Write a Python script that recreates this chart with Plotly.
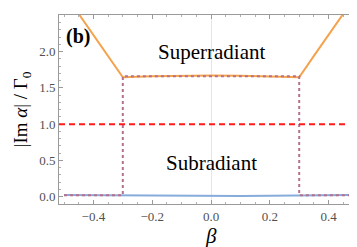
import plotly.graph_objects as go

# ---- data ----
beta_upper = [-0.5, -0.446, -0.4, -0.35, -0.3, -0.2, -0.1, 0.0, 0.1, 0.2, 0.3, 0.35, 0.4, 0.446, 0.5]
gamma_upper = [2.81, 2.50, 2.23, 1.94, 1.645, 1.660, 1.667, 1.670, 1.667, 1.660, 1.645, 1.94, 2.23, 2.50, 2.81]

beta_lower = [-0.5, -0.4, -0.3, -0.2, -0.1, 0.0, 0.1, 0.2, 0.3, 0.4, 0.5]
gamma_lower = [0.025, 0.022, 0.020, 0.015, 0.011, 0.009, 0.011, 0.015, 0.020, 0.022, 0.025]

beta_step = [-0.5, -0.3, -0.3, 0.3, 0.3, 0.5]
gamma_step = [0.02, 0.02, 1.66, 1.66, 0.02, 0.02]

threshold = 1.0

x_ticks = [-0.4, -0.2, 0.0, 0.2, 0.4]
x_tick_labels = ["\u22120.4", "\u22120.2", "0.0", "0.2", "0.4"]
y_ticks = [0.0, 0.5, 1.0, 1.5, 2.0, 2.5]
y_tick_labels = ["0.0", "0.5", "1.0", "1.5", "2.0", "2.5"]

SERIF = "Liberation Serif"

fig = go.Figure()

fig.add_trace(go.Scatter(x=beta_lower, y=gamma_lower, mode="lines",
                         line=dict(color="#86acdb", width=2), showlegend=False))
fig.add_trace(go.Scatter(x=beta_upper, y=gamma_upper, mode="lines",
                         line=dict(color="#f5a24c", width=2), showlegend=False))
fig.add_trace(go.Scatter(x=beta_step, y=gamma_step, mode="lines",
                         line=dict(color="#b5708f", width=2, dash="3px,3px"), showlegend=False))

fig.add_hline(y=threshold, line=dict(color="#ff1a1a", width=2, dash="6px,4px"))

axis_common = dict(
    showline=True, linecolor="#9a9a9a", linewidth=1, mirror="allticks",
    ticks="inside", ticklen=4, tickcolor="#9a9a9a", tickwidth=1,
    showgrid=False,
    tickfont=dict(family=SERIF, size=13, color="#505050"),
)

fig.update_xaxes(
    range=[-0.517, 0.517], tickvals=x_ticks, ticktext=x_tick_labels,
    zeroline=True, zerolinecolor="#e6e6e6", zerolinewidth=1,
    minor=dict(ticks="inside", ticklen=2, tickcolor="#b0b0b0", dtick=0.05, tick0=0),
    **axis_common,
)
fig.update_yaxes(
    range=[-0.1, 2.503], tickvals=y_ticks, ticktext=y_tick_labels,
    zeroline=False,
    minor=dict(ticks="inside", ticklen=2, tickcolor="#b0b0b0", dtick=0.1, tick0=0),
    **axis_common,
)

fig.add_annotation(text="Superradiant", x=0.0, y=1.99, xref="x", yref="y",
                   showarrow=False, font=dict(family=SERIF, size=21, color="black"))
fig.add_annotation(text="Subradiant", x=0.0, y=0.47, xref="x", yref="y",
                   showarrow=False, font=dict(family=SERIF, size=21, color="black"))
fig.add_annotation(text="<b>(b)</b>", x=0.015, y=0.885, xref="paper", yref="paper",
                   xanchor="left", yanchor="middle", showarrow=False,
                   font=dict(family=SERIF, size=20, color="black"))
fig.add_annotation(text="|Im <i>\u03b1</i>| / \u0393<sub>0</sub>", x=-0.122, y=0.5,
                   xref="paper", yref="paper", textangle=-90, showarrow=False,
                   xanchor="center", yanchor="middle",
                   font=dict(family=SERIF, size=19, color="black"))
fig.add_annotation(text="<i>\u03b2</i>", x=0.5, y=-0.17, xref="paper", yref="paper",
                   showarrow=False, xanchor="center", yanchor="middle",
                   font=dict(family=SERIF, size=21, color="black"))

fig.update_layout(
    width=357, height=247,
    margin=dict(l=51, r=2, t=7, b=51),
    paper_bgcolor="white", plot_bgcolor="white",
)

fig.write_html("out.html")
